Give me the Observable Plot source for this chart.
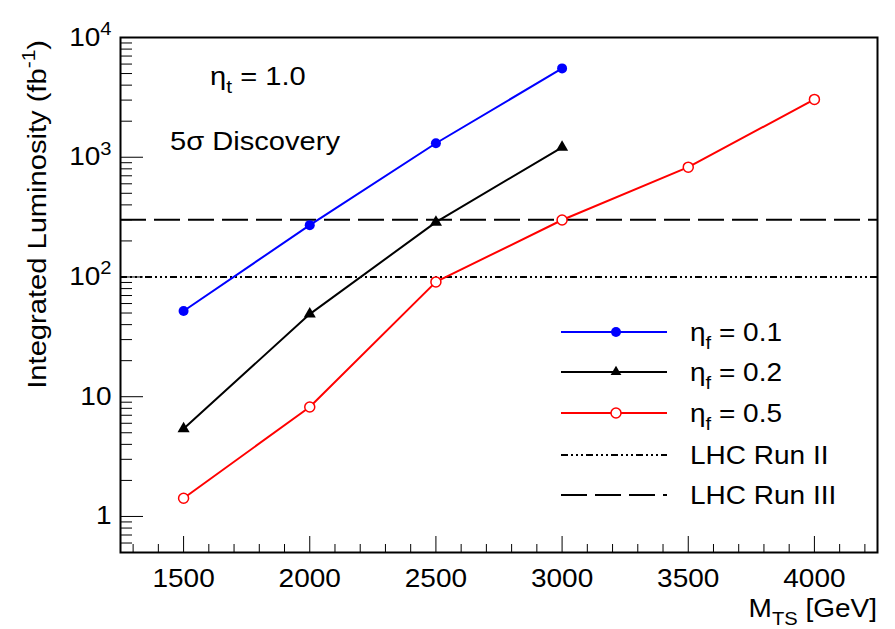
<!DOCTYPE html>
<html>
<head>
<meta charset="utf-8">
<script src="https://cdn.jsdelivr.net/npm/d3@7"></script>
<script src="https://cdn.jsdelivr.net/npm/@observablehq/plot@0.6"></script>
<style>
  html, body { margin: 0; padding: 0; background: white; }
  #chart { width: 895px; height: 629px; }
</style>
</head>
<body>
<div id="chart"></div>
<script>
// ---- data ----
const massA = [1500, 2000, 2500, 3000];
const lumiEta01 = [52, 271, 1309, 5520];
const lumiEta02 = [5.4, 49, 287, 1211];
const massB = [1500, 2000, 2500, 3000, 3500, 4000];
const lumiEta05 = [1.42, 8.2, 91, 299, 826, 3042];
const lhcRunII = 100;
const lhcRunIII = 300;
const xTicks = [1500, 2000, 2500, 3000, 3500, 4000];
const yTicks = [1, 10, 100, 1000, 10000];
const yTickLabels = ["1", "10", "10^{2}", "10^{3}", "10^{4}"];
const seriesNames = ["\u03b7_{f} = 0.1", "\u03b7_{f} = 0.2", "\u03b7_{f} = 0.5", "LHC Run II", "LHC Run III"];
const annot1 = "\u03b7_{t} = 1.0";
const annot2 = "5\u03c3 Discovery";
const xTitle = "M_{TS} [GeV]";
const yTitle = "Integrated Luminosity (fb^{-1})";

const blue = massA.map((m, i) => ({m, L: lumiEta01[i]}));
const black = massA.map((m, i) => ({m, L: lumiEta02[i]}));
const red = massB.map((m, i) => ({m, L: lumiEta05[i]}));

const FONT = "Liberation Sans, Arial, Helvetica, sans-serif";
const FS = 25;
const STRETCH = 1.12;
const dashII = "7,3,2,3,2,3,2,3";
const dashIII = "26,8";

// minor ticks
const xMinor = d3.range(1300, 4250, 100).filter(v => v % 500 !== 0);
const yMinor = [];
for (let d = 0.1; d <= 1000; d *= 10) for (let k = 2; k <= 9; k++) { const v = d * k; if (v >= 0.5 && v <= 10000) yMinor.push(+v.toPrecision(3)); }

const chart = Plot.plot({
  width: 895, height: 629,
  marginLeft: 120, marginRight: 18, marginTop: 37, marginBottom: 77,
  style: {fontFamily: FONT, background: "white", color: "black"},
  x: {domain: [1250, 4250], axis: null},
  y: {type: "log", domain: [0.5, 10000], axis: null},
  marks: [
    Plot.ruleY([lhcRunII], {stroke: "black", strokeWidth: 2, strokeDasharray: dashII}),
    Plot.ruleY([lhcRunIII], {stroke: "black", strokeWidth: 2, strokeDasharray: dashIII}),
    Plot.line(blue, {x: "m", y: "L", stroke: "#0000ff", strokeWidth: 2}),
    Plot.dot(blue, {x: "m", y: "L", r: 5, fill: "#0000ff", stroke: "none"}),
    Plot.line(black, {x: "m", y: "L", stroke: "black", strokeWidth: 2}),
    Plot.dot(black, {x: "m", y: "L", r: 4.5, symbol: "triangle", fill: "black", stroke: "none"}),
    Plot.line(red, {x: "m", y: "L", stroke: "#ff0000", strokeWidth: 2}),
    Plot.dot(red, {x: "m", y: "L", r: 5, fill: "white", stroke: "#ff0000", strokeWidth: 1.5}),
    // axes: ticks inward
    Plot.axisX(xTicks, {tickSize: -16, tickFormat: () => "", label: null}),
    Plot.axisX(xMinor, {tickSize: -8, tickFormat: () => "", label: null}),
    Plot.axisX(xTicks, {tickSize: 0, tickPadding: 17, fontSize: FS, label: null, tickFormat: d => String(d)}),
    Plot.axisY(yTicks, {tickSize: -23, tickFormat: () => "", label: null}),
    Plot.axisY(yMinor, {tickSize: -12, tickFormat: () => "", label: null}),
    Plot.axisY(yTicks, {tickSize: 0, tickPadding: 9, fontSize: FS, label: null, tickFormat: d => yTickLabels[yTicks.indexOf(d)]}),
    Plot.frame({stroke: "black", strokeWidth: 2})
  ]
});
document.getElementById("chart").appendChild(chart);

// rich text: "_{...}" subscript, "^{...}" superscript
function rich(textEl, str, fs) {
  const t = d3.select(textEl);
  t.text(null);
  const re = /([_^])\{([^}]*)\}/g;
  let last = 0, m, shift = 0;
  const push = (s, kind) => {
    if (!s) return;
    const sp = t.append("tspan").text(s);
    let target = 0;
    if (kind === "_") { target = 0.32 * fs; sp.attr("font-size", 0.72 * fs); }
    else if (kind === "^") { target = -0.42 * fs; sp.attr("font-size", 0.72 * fs); }
    const d = target - shift;
    if (d !== 0) sp.attr("dy", d);
    shift = target;
  };
  while ((m = re.exec(str))) {
    push(str.slice(last, m.index), null);
    push(m[2], m[1]);
    last = re.lastIndex;
  }
  push(str.slice(last), null);
}

const svg = d3.select(chart);
svg.selectAll('g[aria-label="y-axis tick label"] text').each(function() {
  rich(this, this.textContent, FS);
});

function addText(x, y, str, fs, anchor = "start", rotate = 0) {
  const t = svg.append("text")
    .attr("font-family", FONT).attr("font-size", fs).attr("fill", "black")
    .attr("text-anchor", anchor)
    .attr("transform", `translate(${x},${y}) rotate(${rotate})`);
  rich(t.node(), str, fs);
  return t;
}

// titles
addText(877, 617, xTitle, FS, "end");
addText(46, 40, yTitle, FS + 1, "end", -90);
// annotations
addText(210, 85, annot1, FS + 1);
addText(170, 150, annot2, FS + 1);

// legend
const legRows = [332, 372, 413, 455, 495];
const lg = svg.append("g");
const styles = [
  {stroke: "#0000ff", dash: null, marker: "dot"},
  {stroke: "black", dash: null, marker: "tri"},
  {stroke: "#ff0000", dash: null, marker: "open"},
  {stroke: "black", dash: dashII, marker: null},
  {stroke: "black", dash: dashIII, marker: null}
];
styles.forEach((s, i) => {
  const y = legRows[i];
  lg.append("line").attr("x1", 561).attr("x2", 667).attr("y1", y).attr("y2", y)
    .attr("stroke", s.stroke).attr("stroke-width", 2).attr("stroke-dasharray", s.dash);
  if (s.marker === "dot") lg.append("circle").attr("cx", 616).attr("cy", y).attr("r", 5).attr("fill", "#0000ff");
  if (s.marker === "open") lg.append("circle").attr("cx", 616).attr("cy", y).attr("r", 5).attr("fill", "white").attr("stroke", "#ff0000").attr("stroke-width", 1.5);
  if (s.marker === "tri") lg.append("path").attr("d", d3.symbol(d3.symbolTriangle, 50)()).attr("transform", `translate(616,${y})`).attr("fill", "black");
  addText(690, y + 9, seriesNames[i], FS);
});

// horizontal stretch of all text (reference glyphs are wider than Helvetica metrics)
svg.selectAll("text").each(function() {
  const tr = this.getAttribute("transform") || "";
  this.setAttribute("transform", tr + ` scale(${STRETCH},1)`);
});
</script>
</body>
</html>
